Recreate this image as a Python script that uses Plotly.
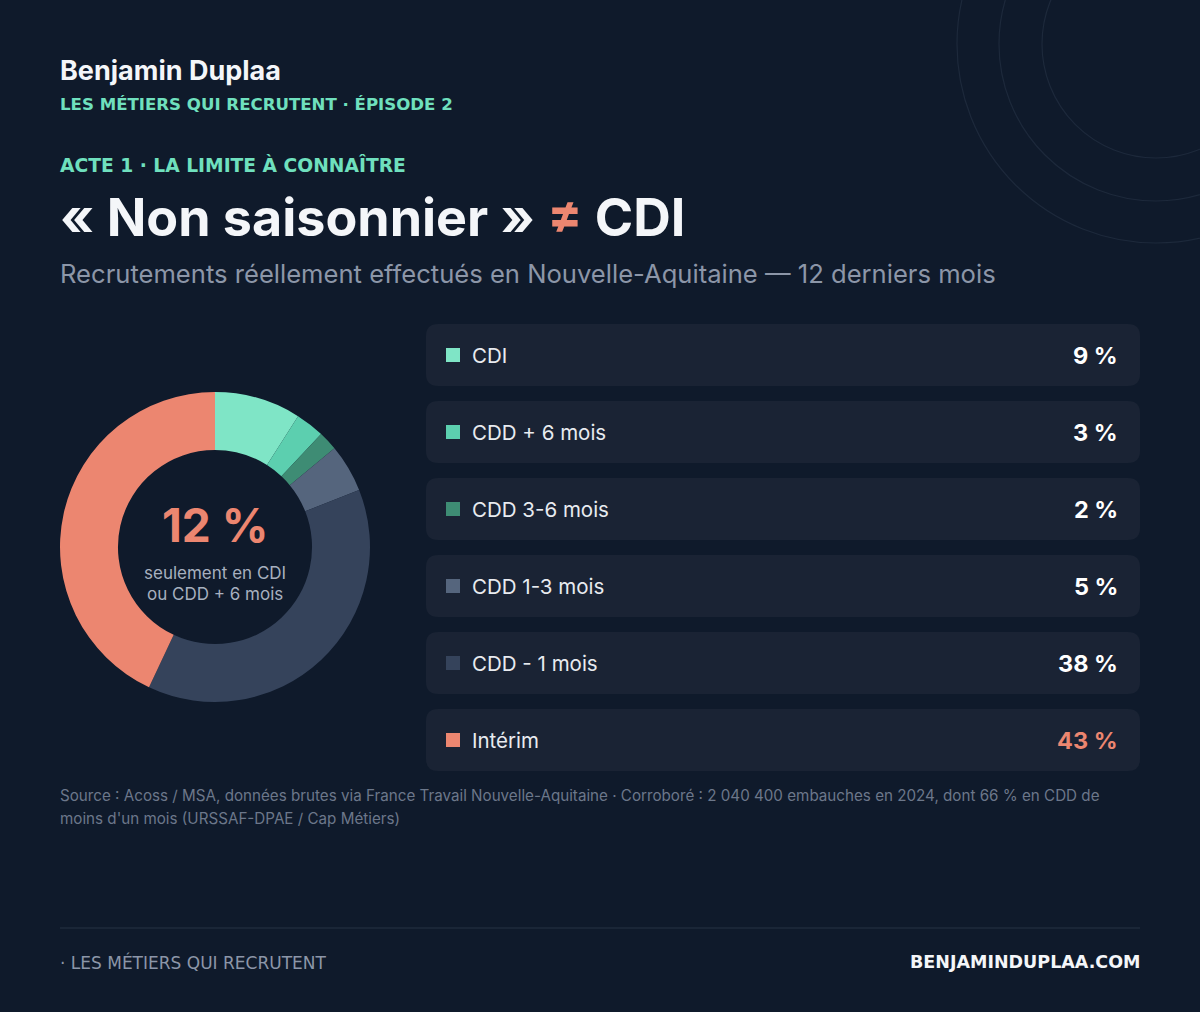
import plotly.graph_objects as go

# ---- data ----
categories = ["CDI", "CDD + 6 mois", "CDD 3-6 mois", "CDD 1-3 mois", "CDD - 1 mois", "Intérim"]
shares = [9, 3, 2, 5, 38, 43]
colors = ["#7fe5c6", "#5ccfaf", "#3e8c74", "#55657d", "#35435b", "#ec8670"]
value_colors = ["#ffffff", "#ffffff", "#ffffff", "#ffffff", "#ffffff", "#ec8670"]
highlight_value = "12 %"

BG = "#0f1a2b"
CARD = "#1a2334"
W, H = 1200, 1012
FONT = "Inter"
PAD = 2  # annotation inner padding (borderpad + borderwidth)

fig = go.Figure()

# donut
fig.add_trace(go.Pie(
    labels=categories, values=shares, sort=False, direction="clockwise", rotation=0,
    hole=0.626, marker=dict(colors=colors, line=dict(width=0)),
    textinfo="none", hoverinfo="skip", showlegend=False,
    domain=dict(x=[60 / W, 370 / W], y=[1 - 702 / H, 1 - 392 / H]),
))

# rows layout
row_y0 = 355
row_step = 77
row_y = [row_y0 + row_step * i for i in range(len(categories))]

fig.add_trace(go.Scatter(
    x=[453] * len(categories), y=row_y, mode="markers",
    marker=dict(symbol="square", size=14, color=colors, line=dict(width=0)),
    hoverinfo="skip", showlegend=False,
))


def rrect(x0, y0, x1, y1, r):
    return (f"M {x0 + r},{y0} L {x1 - r},{y0} Q {x1},{y0} {x1},{y0 + r} "
            f"L {x1},{y1 - r} Q {x1},{y1} {x1 - r},{y1} L {x0 + r},{y1} "
            f"Q {x0},{y1} {x0},{y1 - r} L {x0},{y0 + r} Q {x0},{y0} {x0 + r},{y0} Z")


shapes = []
for y in row_y:
    shapes.append(dict(type="path", path=rrect(426, y - 31, 1140, y + 31, 12),
                       xref="x", yref="y", fillcolor=CARD, line=dict(width=0), layer="below"))

# decorative circles
for r in [114, 157, 199]:
    shapes.append(dict(type="circle", xref="x", yref="y", x0=1156 - r, x1=1156 + r,
                       y0=44 - r, y1=44 + r, line=dict(color="#1d293b", width=1.2),
                       fillcolor="rgba(0,0,0,0)", layer="below"))

# footer rule
shapes.append(dict(type="line", xref="x", yref="y", x0=60, x1=1140, y0=928, y1=928,
                   line=dict(color="#1f2b3c", width=1.5)))

ann = []


def txt(x, y, text, size, color, weight="normal", xanchor="left", family=FONT):
    if xanchor == "left":
        x -= PAD
    elif xanchor == "right":
        x += PAD
    ann.append(dict(x=x, y=y, xref="x", yref="y", text=text, showarrow=False,
                    xanchor=xanchor, yanchor="middle", align=xanchor,
                    font=dict(family=family, size=size, color=color, weight=weight)))


for cat, y, vc, v in zip(categories, row_y, value_colors, shares):
    txt(472, y, cat, 20.5, "#e8ebf0")
    txt(1118, y, f"{v} %", 23.5, vc, weight="bold", xanchor="right")

txt(60, 70, "Benjamin Duplaa", 27, "#f4f6f9", weight="bold")
txt(60, 104, "LES MÉTIERS QUI RECRUTENT · ÉPISODE 2", 16.6, "#6fe0be", weight="bold", family="DejaVu Sans")
txt(60, 165, "ACTE 1 · LA LIMITE À CONNAÎTRE", 18.7, "#6fe0be", weight="bold", family="DejaVu Sans")
txt(60, 217, "« Non saisonnier » <span style='color:#ec8670'>≠</span> CDI", 52, "#f4f6f9", weight="bold")
txt(60, 273, "Recrutements réellement effectués en Nouvelle-Aquitaine — 12 derniers mois", 25.6, "#8c96a8")

txt(215, 525, highlight_value, 46, "#ec8670", weight="bold", xanchor="center")
txt(215, 573, "seulement en CDI", 17, "#a7b0bf", xanchor="center")
txt(215, 594, "ou CDD + 6 mois", 17, "#a7b0bf", xanchor="center")

txt(60, 795, "Source : Acoss / MSA, données brutes via France Travail Nouvelle-Aquitaine · Corroboré : 2 040 400 embauches en 2024, dont 66 % en CDD de", 15.2, "#6c778a")
txt(60, 818, "moins d'un mois (URSSAF-DPAE / Cap Métiers)", 15.2, "#6c778a")

txt(60, 962, "· LES MÉTIERS QUI RECRUTENT", 17, "#8c96a8", family="DejaVu Sans")
txt(1140, 962, "BENJAMINDUPLAA.COM", 17.5, "#f4f6f9", weight="bold", xanchor="right", family="DejaVu Sans")

fig.update_layout(
    width=W, height=H, margin=dict(l=0, r=0, t=0, b=0),
    paper_bgcolor=BG, plot_bgcolor=BG,
    xaxis=dict(range=[0, W], visible=False, fixedrange=True, domain=[0, 1]),
    yaxis=dict(range=[H, 0], visible=False, fixedrange=True, domain=[0, 1]),
    shapes=shapes, annotations=ann, showlegend=False,
)

fig.write_html("out.html", config={"displayModeBar": False})
